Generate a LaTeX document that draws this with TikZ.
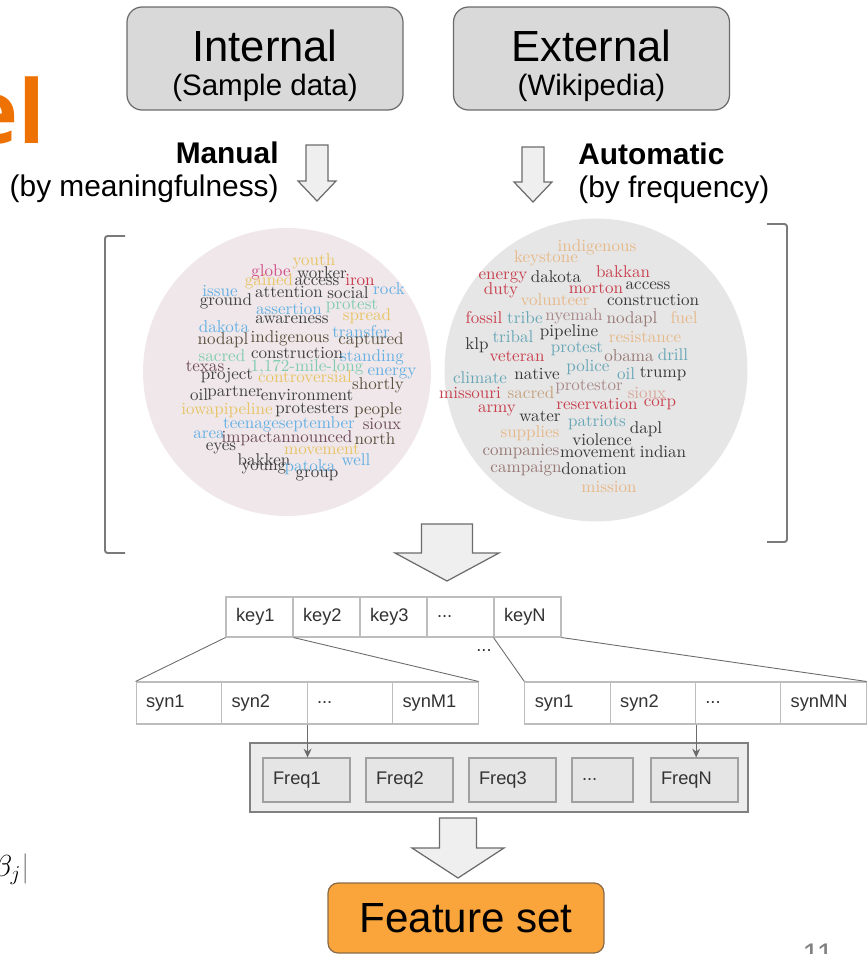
\documentclass[tikz,border=0pt]{standalone}
\usepackage{fontspec}
\setsansfont{Liberation Sans}
\newfontfamily\titlefont{Open Sans}
\usepackage{tikz}
\usetikzlibrary{arrows.meta}
\definecolor{boxgray}   {HTML}{D9D9D9}
\definecolor{edgegray}  {HTML}{6B6B6B}
\definecolor{arrowfill} {HTML}{EFEFEF}
\definecolor{cellline}  {HTML}{BDBDBD}
\definecolor{textgray}  {HTML}{333333}
\definecolor{freqfill}  {HTML}{ECECEC}
\definecolor{freqcell}  {HTML}{E5E5E5}
\definecolor{freqline}  {HTML}{A0A0A0}
\definecolor{featorange}{HTML}{F9A53C}
\definecolor{featedge}  {HTML}{8A6A48}
\definecolor{slideorange}{HTML}{EE7203}
\definecolor{lcloudfill}{HTML}{EFE7E9}
\definecolor{rcloudfill}{HTML}{E6E6E6}
%% word colours, left cloud
\definecolor{cdark} {HTML}{404040}
\definecolor{colive}{HTML}{5A5240}
\definecolor{cyel}  {HTML}{E8C464}
\definecolor{cpink} {HTML}{D04C86}
\definecolor{cred}  {HTML}{C8384A}
\definecolor{cblue} {HTML}{64B0E4}
\definecolor{cgreen}{HTML}{80CCB0}
\definecolor{cplum} {HTML}{6E4A5A}
%% word colours, right cloud
\definecolor{rred}  {HTML}{C8404E}
\definecolor{rtan}  {HTML}{E6B888}
\definecolor{rteal} {HTML}{66A6B6}
\definecolor{rmauve}{HTML}{A88888}
\definecolor{rdark} {HTML}{383838}
\definecolor{rbrown}{HTML}{967874}
\definecolor{rsand} {HTML}{C4A27E}
\definecolor{rrose} {HTML}{D8A898}

\begin{document}
\begin{tikzpicture}[
  x=0.02cm, y=-0.02cm,
  every node/.style={font=\sffamily},
  src/.style  ={draw=edgegray,fill=boxgray,rounded corners=0.3cm,line width=0.7pt,
                minimum width=5.52cm,minimum height=2.06cm},
  srctitle/.style={anchor=base,inner sep=0pt,font=\sffamily\fontsize{24.8}{26}\selectfont},
  srcsub/.style={anchor=base,inner sep=0pt,font=\sffamily\fontsize{16.8}{18}\selectfont},
  how/.style  ={font=\sffamily\fontsize{17}{18.7}\selectfont,inner sep=0pt},
  hollow/.style={draw=edgegray,fill=arrowfill,line width=0.7pt},
  brk/.style  ={draw=edgegray!90,line width=1.1pt,rounded corners=1.5pt},
  cell/.style ={draw=cellline,fill=white,line width=0.6pt,text=textgray,
                text width=0.94cm,inner xsep=0.2cm,inner ysep=0pt,align=left,
                minimum height=0.8cm,font=\sffamily\fontsize{10.4}{12}\selectfont},
  syncell/.style={cell,text width=1.31cm,minimum height=0.84cm},
  freqs/.style={draw=freqline!80!black,fill=freqfill,line width=0.7pt,
                minimum width=9.96cm,minimum height=1.38cm},
  freq/.style ={cell,draw=freqline,fill=freqcell,text width=1.34cm,minimum height=0.88cm},
  feat/.style ={draw=featedge,fill=featorange,rounded corners=0.2cm,line width=0.7pt,
                minimum width=5.52cm,minimum height=1.4cm,
                font=\sffamily\fontsize{24}{26}\selectfont},
  cloud/.style={circle,inner sep=0pt},
  word/.style ={inner sep=0pt,font=\rmfamily\fontsize{9.7}{10}\selectfont},
  link/.style ={draw=edgegray,line width=0.5pt},
  arr/.style  ={-{Stealth[length=5pt,width=4.5pt]},draw=edgegray,line width=0.5pt}
]
\useasboundingbox (0,0) rectangle (868,954);
%% cut-off slide fragments
\node[anchor=base east,inner sep=0pt,text=slideorange,
      font=\titlefont\bfseries\fontsize{50}{50}\selectfont] (title) at (46,143) {el};
\node[anchor=base east,inner sep=0pt,font=\fontsize{17}{17}\selectfont] (beta) at (30,876)
  {$\beta_j\textcolor{gray}{|}$};
\node[anchor=north,inner sep=0pt,text=gray,font=\sffamily\fontsize{17}{17}\selectfont] (page) at (818,944) {11};
%% Sources
\node[src] (internal) at (265,58.5) {};
\node[srctitle] (internaltitle) at (265,61) {Internal};
\node[srcsub]   (internalsub)   at (265,95) {(Sample data)};
\node[src] (external) at (591.5,58.5) {};
\node[srctitle] (externaltitle) at (591.5,61) {External};
\node[srcsub]   (externalsub)   at (591.5,95) {(Wikipedia)};
\node[how,anchor=east,align=right] (manual) at (279,172)
  {\textbf{Manual}\\(by meaningfulness)};
\node[how,anchor=west,align=left] (auto) at (578,173)
  {\textbf{Automatic}\\(by frequency)};
%% small hollow arrows
\draw[hollow] (306,145) -- (328,145) -- (328,181) -- (336,181) -- (317,201)
  -- (298,181) -- (306,181) -- cycle;
\draw[hollow] (522,147) -- (544,147) -- (544,182) -- (552,182) -- (533,202)
  -- (514,182) -- (522,182) -- cycle;
%% word clouds
\node[cloud,fill=lcloudfill,minimum size=5.76cm] (lcloud) at (287,372) {};
\node[cloud,fill=rcloudfill,minimum size=6.06cm] (rcloud) at (596,370) {};
\foreach \w/\x/\y/\c [count=\i] in {
  youth/314/261/cyel, globe/271/272/cpink, worker/322/273/cdark, iron/360/280/cred,
  gained/269/281/cyel, access/317/282/cdark, issue/220/291/cblue, attention/289/292/cdark,
  social/348/293/cdark, rock/389/289/cblue, ground/226/301/cdark, assertion/289/309/cblue,
  protest/352/306/cgreen, spread/367/316/cyel, dakota/224/327/cblue, awareness/292/320/cdark,
  transfer/361/332/cblue, nodapl/223/340/colive, indigenous/290/338/colive,
  captured/371/340/colive, sacred/222/356/cgreen, construction/297/353/cdark,
  standing/372/357/cblue, texas/205/366/cplum, {1,172-mile-long}/307/367/cgreen,
  energy/392/373/cblue, project/227/376/cdark, controversial/305/377/cyel,
  shortly/378/385/colive, oil/199/395/cdark, partner/235/393/cdark,
  environment/307/395/cdark, iowapipeline/227/410/cyel, protesters/312/410/cdark,
  people/378/410/colive, teenageseptember/289/424/cblue, sioux/382/424/cplum,
  area/209/435/cblue, impactannounced/287/438/cplum, north/375/439/colive,
  eyes/221/448/cdark, movement/322/449/cyel, bakken/264/460/cdark, patoka/310/467/cblue,
  well/356/460/cblue, young/264/468/cdark, group/317/475/cdark}
  \node[word,text=\c] (lw\i) at (\x,\y) {\w};
\foreach \w/\x/\y/\c [count=\i] in {
  indigenous/597/247/rtan, keystone/546/258/rtan, energy/503/277/rred, dakota/556/277/rdark,
  bakkan/623/272/rred, morton/596/288/rred, access/648/286/rdark, duty/501/290/rred,
  volunteer/555/300/rtan, construction/653/300/rdark, fossil/484/318/rred,
  tribe/525/318/rteal, nyemah/574/316/rmauve, nodapl/632/319/rbrown, fuel/684/318/rtan,
  klp/477/345/rdark, tribal/513/337/rteal, pipeline/569/332/rdark, resistance/645/337/rtan,
  veteran/517/356/rred, protest/577/349/rteal, obama/629/356/rbrown, drill/673/355/rteal,
  climate/480/378/rteal, native/537/374/rdark, police/588/367/rteal, oil/626/374/rteal,
  trump/663/374/rdark, missouri/470/393/rred, sacred/531/393/rsand, protestor/589/387/rmauve,
  sioux/647/393/rrose, army/497/410/rred, reservation/597/404/rred, corp/660/404/rred,
  water/540/416/rdark, patriots/597/423/rteal, dapl/646/429/rdark, supplies/530/433/rtan,
  violence/602/440/rdark, companies/521/452/rbrown, movement/598/452/rdark,
  indian/663/452/rdark, campaign/526/469/rbrown, donation/594/469/rdark, mission/609/487/rtan}
  \node[word,text=\c] (rw\i) at (\x,\y) {\w};
%% brackets
\draw[brk] (125,236) -- (105,236) -- (105,553) -- (125,553);
\draw[brk] (767,224) -- (787,224) -- (787,542) -- (767,542);
%% big hollow arrow
\draw[hollow] (421.5,524) -- (472.5,524) -- (472.5,553) -- (499,553) -- (447,581)
  -- (395,553) -- (421.5,553) -- cycle;
%% Keys
\node[cell] (key1) at (259.5,617) {key1};
\node[cell] (key2) at (326.5,617) {key2};
\node[cell] (key3) at (393.5,617) {key3};
\node[cell] (keyd) at (460.5,617) {...};
\node[cell] (keyN) at (527.5,617) {keyN};
\node[font=\sffamily\fontsize{10.4}{12}\selectfont,text=textgray] (gap) at (484,651) {...};
%% Synonyms
\node[syncell] (synA1) at (178.8,703) {syn1};
\node[syncell] (synA2) at (264.3,703) {syn2};
\node[syncell] (synA3) at (349.8,703) {...};
\node[syncell] (synA4) at (435.3,703) {synM1};
\node[syncell] (synB1) at (567.6,703) {syn1};
\node[syncell] (synB2) at (652.9,703) {syn2};
\node[syncell] (synB3) at (738.1,703) {...};
\node[syncell] (synB4) at (823.4,703) {synMN};
\draw[link] (key1.south west) -- (synA1.north west);
\draw[link] (key1.south east) -- (synA4.north east);
\draw[link] (keyN.south west) -- (synB1.north west);
\draw[link] (keyN.south east) -- (synB4.north east);
%% Frequencies
\node[freqs] (freqbox) at (499,777.5) {};
\node[freq] (freq1) at (306.5,780) {Freq1};
\node[freq] (freq2) at (409.5,780) {Freq2};
\node[freq] (freq3) at (512.5,780) {Freq3};
\node[freq,text width=0.82cm] (freqd) at (602.5,780) {...};
\node[freq] (freqN) at (694.5,780) {FreqN};
\draw[arr] (synA2.south east) -- (synA2.south east |- freq1.north);
\draw[arr] (synB2.south east) -- (synB2.south east |- freqN.north);
%% result
\draw[hollow] (439.5,818) -- (476.5,818) -- (476.5,848) -- (504,848) -- (458,878)
  -- (412,848) -- (439.5,848) -- cycle;
\node[feat] (feature) at (466,918) {Feature set};
\end{tikzpicture}
\end{document}
